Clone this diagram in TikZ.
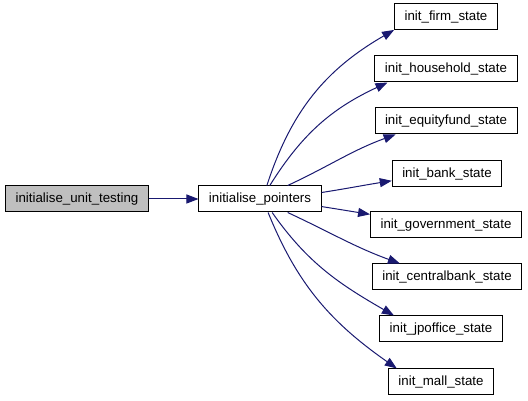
\documentclass[tikz,border=0pt]{standalone}
\usepackage{fontspec}
\setmainfont{Liberation Sans}
\usepackage{xcolor}
\usepackage{tikz}
\usetikzlibrary{arrows.meta}

\definecolor{edgeblue}{HTML}{191970}

\begin{document}
\begin{tikzpicture}[x=1pt, y=1pt,
  fn/.style={draw, line width=1pt, fill=white, font=\fontsize{13.3}{16}\selectfont, inner xsep=10pt, minimum height=26pt, align=center},
  root/.style={fn, fill=gray!50},
  arr/.style={-{Triangle[length=12pt, width=9pt]}, draw=edgeblue, line width=1pt}
]
\useasboundingbox (0,0) rectangle (528,401);

% Caller
\node[root] (ut) at (77, 202) {initialise\_unit\_testing};
\node[fn] (pp) at (260, 202) {initialise\_pointers};

% Callees
\node[fn] (firm) at (446, 384) {init\_firm\_state};
\node[fn] (household) at (446, 332) {init\_household\_state};
\node[fn] (equityfund) at (446, 280) {init\_equityfund\_state};
\node[fn] (bank) at (447, 227) {init\_bank\_state};
\node[fn] (government) at (446, 176) {init\_government\_state};
\node[fn] (centralbank) at (447, 124) {init\_centralbank\_state};
\node[fn] (jpoffice) at (441, 72) {init\_jpoffice\_state};
\node[fn] (mall) at (441, 19) {init\_mall\_state};

% Calls
\draw[arr] (ut) -- (pp);
\foreach \n/\a/\b/\o/\i in {firm/63/194/72/210, household/54/193/58/205,
    equityfund/26/195/25/200, bank/6/187/9/189, government/-7/172/-9/171,
    centralbank/-26/164/-25/160, jpoffice/-48/164/-55/150, mall/-59/163/-68/145}
  \draw[arr] (pp.\a) to[out=\o, in=\i] (\n.\b);
\end{tikzpicture}
\end{document}
